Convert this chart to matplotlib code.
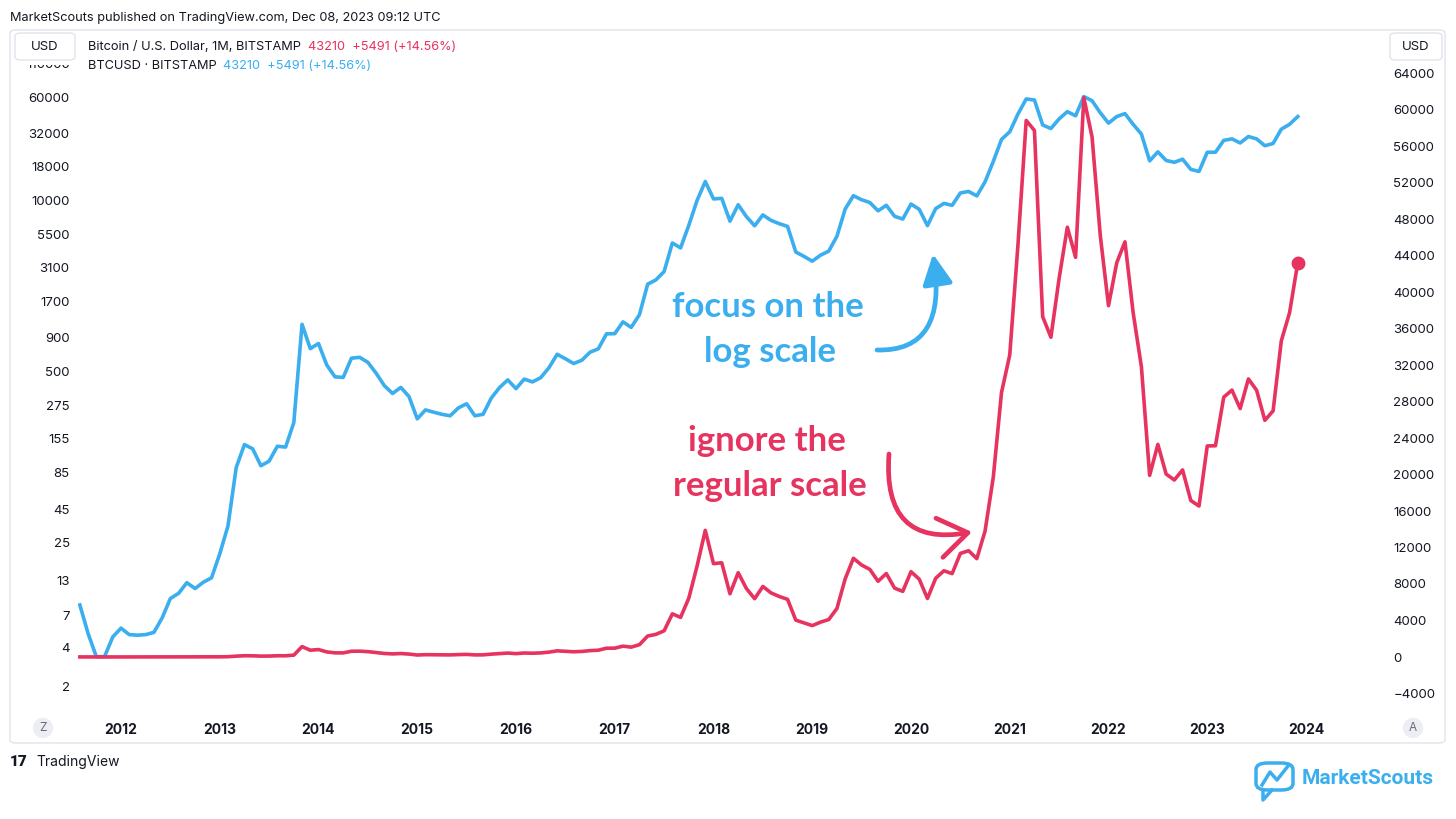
import numpy as np
import pandas as pd
import matplotlib
matplotlib.use("Agg")
import matplotlib.pyplot as plt
from matplotlib.patches import FancyBboxPatch, FancyArrowPatch, Rectangle
from matplotlib.path import Path

plt.rcParams['font.family'] = ['Inter', 'DejaVu Sans']

# monthly closes BTCUSD (Bitstamp), Aug 2011 .. Dec 2023
close_2011 = [8.4, 5.1, 3.4, 3.4, 4.8]
close_2012 = [5.6, 5.0, 4.95, 5.0, 5.2, 6.7, 9.4, 10.3, 12.4, 11.2, 12.5, 13.5]
close_2013 = [20.5, 33.5, 93, 139, 129, 96, 104, 135, 133, 204, 1140, 745]
close_2014 = [815, 560, 455, 450, 630, 640, 586, 485, 390, 340, 378, 322]
close_2015 = [218, 255, 245, 236, 230, 264, 284, 230, 236, 314, 377, 431]
close_2016 = [370, 437, 416, 448, 533, 675, 624, 574, 608, 700, 742, 965]
close_2017 = [968, 1190, 1080, 1350, 2300, 2480, 2870, 4730, 4340, 6450, 9950, 13880]
close_2018 = [10230, 10330, 6930, 9240, 7500, 6390, 7730, 7020, 6630, 6320, 4040, 3740]
close_2019 = [3440, 3820, 4100, 5320, 8560, 10820, 10080, 9600, 8300, 9150, 7550, 7190]
close_2020 = [9350, 8530, 6410, 8630, 9450, 9140, 11350, 11650, 10780, 13800, 19700, 28990]
close_2021 = [33100, 45200, 58800, 57700, 37300, 35040, 41500, 47100, 43800, 61300, 57000, 46200]
close_2022 = [38500, 43200, 45500, 37700, 31800, 19900, 23300, 20050, 19400, 20500, 17150, 16540]
close_2023 = [23130, 23150, 28470, 29250, 27220, 30470, 29230, 25940, 26970, 34650, 37720, 43210]

closes = np.array(close_2011 + close_2012 + close_2013 + close_2014 + close_2015 + close_2016
                  + close_2017 + close_2018 + close_2019 + close_2020 + close_2021 + close_2022
                  + close_2023, dtype=float)
months = pd.date_range("2011-08-01", periods=len(closes), freq="MS")
t = months.year + (months.month - 1) / 12.0

log_ticks = [2, 4, 7, 13, 25, 45, 85, 155, 275, 500, 900, 1700, 3100, 5500,
             10000, 18000, 32000, 60000, 110000]
lin_ticks = list(range(-4000, 64001, 4000))
years = list(range(2012, 2025))

BLUE = "#3aaeef"
RED = "#e6335f"
TXT = "#131722"
GRID = "#e0e3eb"

W, H = 1456, 819
fig = plt.figure(figsize=(W / 100, H / 100), dpi=100)


def fx(x):
    return x / W


def fy(y):
    return 1 - y / H


# pane in pixels
L, R, T, B = 78, 1385, 30, 713
ax = fig.add_axes([fx(L), fy(B), (R - L) / W, (B - T) / H])
ax2 = ax.twinx()

ax.set_yscale("log")
ax.plot(t, closes, color=BLUE, lw=2.6, solid_joinstyle="round", zorder=3)
ax2.plot(t, closes, color=RED, lw=2.6, solid_joinstyle="round", zorder=3)
ax2.plot(t[-1:], closes[-1:], "o", color=RED, ms=9, zorder=4)

ax.set_xlim(2012 + (L - 121) / 98.75, 2012 + (R - 121) / 98.75)
ax.set_ylim(10 ** ((726.6 - B) / 131.6), 10 ** ((726.6 - T) / 131.6))
ax2.set_ylim((657 - B) / 0.009125, (657 - T) / 0.009125)

ax.set_yticks(log_ticks)
ax.set_yticklabels([str(v) for v in log_ticks])
ax.yaxis.set_minor_locator(matplotlib.ticker.NullLocator())
ax2.set_yticks(lin_ticks)
ax2.set_yticklabels([str(v).replace("-", "\u2212") for v in lin_ticks])
ax.set_xticks(years)
ax.set_xticklabels([str(y) for y in years], fontweight="bold")

ax.tick_params(axis="y", length=0, pad=6, labelsize=9.5, labelcolor=TXT)
ax2.tick_params(axis="y", length=0, pad=6, labelsize=9.5, labelcolor=TXT)
ax.tick_params(axis="x", length=0, pad=7, labelsize=10, labelcolor=TXT)
for a in (ax, ax2):
    for s in a.spines.values():
        s.set_visible(False)
    a.patch.set_visible(False)

# outer frame
fig.patches.append(FancyBboxPatch((fx(10), fy(743)), fx(1445) - fx(10), fy(30) - fy(743),
                                  boxstyle="round,pad=0,rounding_size=0.004",
                                  transform=fig.transFigure, fc="none", ec=GRID, lw=1, zorder=0))

# header
fig.text(fx(10), fy(18), "MarketScouts published on TradingView.com, Dec 08, 2023 09:12 UTC",
         fontsize=9.2, color=TXT, va="center")
# legend area hides the top of the highest price label
fig.patches.append(Rectangle((fx(14), fy(65)), fx(80) - fx(14), fy(31) - fy(65),
                             transform=fig.transFigure, fc="white", ec="none", zorder=4))
for bx0, bx1 in [(15, 75), (1390, 1442)]:
    fig.patches.append(FancyBboxPatch((fx(bx0), fy(60)), fx(bx1) - fx(bx0), fy(33) - fy(60),
                                      boxstyle="round,pad=0,rounding_size=0.004",
                                      transform=fig.transFigure, fc="white", ec=GRID, lw=1, zorder=5))
    fig.text(fx((bx0 + bx1) / 2), fy(47), "USD", fontsize=9.5, color=TXT,
             ha="center", va="center", zorder=6)

fig.text(fx(88), fy(47), "Bitcoin / U.S. Dollar, 1M, BITSTAMP", fontsize=9.2, color=TXT,
         va="center", zorder=6)
fig.text(fx(308), fy(47), "43210  +5491 (+14.56%)", fontsize=9.2, color=RED, va="center", zorder=6)
fig.text(fx(88), fy(66), "BTCUSD \u00b7 BITSTAMP", fontsize=9.2, color=TXT, va="center", zorder=6)
fig.text(fx(223), fy(66), "43210  +5491 (+14.56%)", fontsize=9.2, color=BLUE, va="center", zorder=6)

# Z / A buttons
for cx, lab in [(43, "Z"), (1413, "A")]:
    fig.text(fx(cx), fy(728), lab, fontsize=8.5, color="#6a6d78", ha="center", va="center",
             bbox=dict(boxstyle="circle,pad=0.35", fc="#eceef3", ec="none"))

# annotations
for x, y, s, c in [(768, 307, "focus on the", BLUE), (770, 352, "log scale", BLUE),
                   (767, 441, "ignore the", RED), (770, 486, "regular scale", RED)]:
    fig.text(fx(x), fy(y), s, fontsize=25, fontweight="bold", color=c,
             family=["Lato", "DejaVu Sans"], ha="center", va="center")


def curved_arrow(p0, p1, p2, color, style):
    path = Path([(fx(p0[0]), fy(p0[1])), (fx(p1[0]), fy(p1[1])), (fx(p2[0]), fy(p2[1]))],
                [Path.MOVETO, Path.CURVE3, Path.CURVE3])
    arr = FancyArrowPatch(path=path, arrowstyle=style, mutation_scale=26, color=color,
                          lw=3.4, capstyle="round", joinstyle="round",
                          transform=fig.transFigure)
    fig.patches.append(arr)


curved_arrow((877, 350), (948, 352), (933, 254), BLUE, "-|>,head_length=0.7,head_width=0.35")
curved_arrow((889, 454), (882, 548), (972, 532), RED, "->,head_length=0.8,head_width=0.55")

# footer logos
fig.text(fx(10), fy(762), "17", fontsize=11, fontweight="black", color=TXT, va="center",
         family=["Roboto", "DejaVu Sans"])
fig.text(fx(36), fy(762), "TradingView", fontsize=10, color=TXT, va="center")

bub = FancyBboxPatch((fx(1256), fy(790)), fx(1293) - fx(1256), fy(763) - fy(790),
                     boxstyle="round,pad=0,rounding_size=0.008", transform=fig.transFigure,
                     fc="none", ec=BLUE, lw=2.5)
fig.patches.append(bub)
fig.lines.append(plt.Line2D([fx(1262), fx(1270), fx(1277), fx(1288)],
                            [fy(785), fy(772), fy(780), fy(766)],
                            transform=fig.transFigure, color=BLUE, lw=2.5))
fig.lines.append(plt.Line2D([fx(1263), fx(1263), fx(1272)],
                            [fy(790), fy(800), fy(790)],
                            transform=fig.transFigure, color=BLUE, lw=2.5))
fig.text(fx(1302), fy(778), "MarketScouts", fontsize=15, fontweight="bold", color=BLUE,
         va="center", family=["Roboto", "DejaVu Sans"])

fig.savefig("out.png", dpi=100)
